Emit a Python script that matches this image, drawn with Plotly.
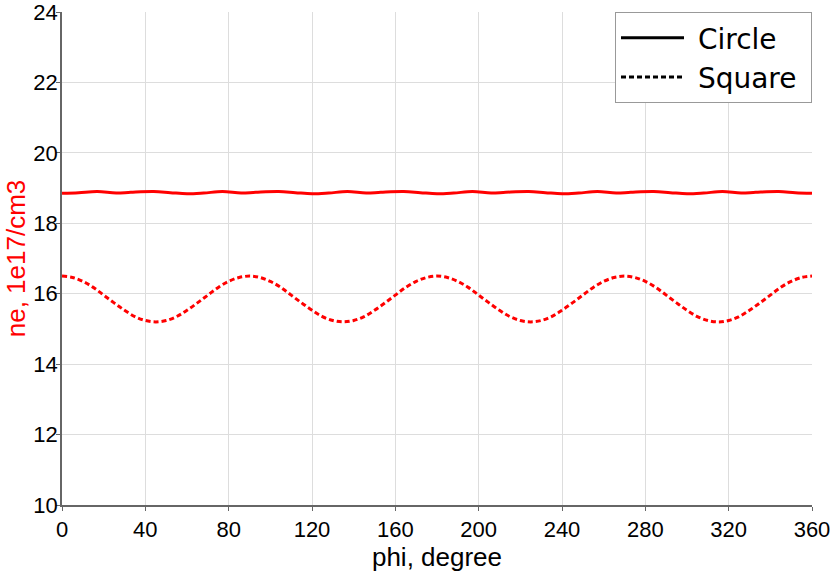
import plotly.graph_objects as go

# Circle series
phi_circle = [0, 8, 17, 26, 33, 44, 52, 60, 68, 77, 86, 93, 104, 112, 120, 128, 137, 146, 153,
              164, 172, 180, 188, 197, 206, 213, 224, 232, 240, 248, 257, 266, 273, 284, 292,
              300, 308, 317, 326, 333, 344, 352, 360]
ne_circle = [18.85, 18.87, 18.90, 18.86, 18.88, 18.90, 18.87, 18.84, 18.86, 18.90, 18.86, 18.88,
             18.90, 18.87, 18.84, 18.86, 18.90, 18.86, 18.88, 18.90, 18.87, 18.84, 18.86, 18.90,
             18.86, 18.88, 18.90, 18.87, 18.84, 18.86, 18.90, 18.86, 18.88, 18.90, 18.87, 18.84,
             18.86, 18.90, 18.86, 18.88, 18.90, 18.87, 18.85]

# Square series
phi_square = list(range(0, 361, 5))
ne_square = [16.50, 16.46, 16.35, 16.18, 15.96, 15.74, 15.53, 15.35, 15.24, 15.20,
             15.24, 15.35, 15.53, 15.74, 15.96, 16.18, 16.35, 16.46, 16.50,
             16.46, 16.35, 16.18, 15.96, 15.74, 15.53, 15.35, 15.24, 15.20,
             15.24, 15.35, 15.53, 15.74, 15.96, 16.18, 16.35, 16.46, 16.50,
             16.46, 16.35, 16.18, 15.96, 15.74, 15.53, 15.35, 15.24, 15.20,
             15.24, 15.35, 15.53, 15.74, 15.96, 16.18, 16.35, 16.46, 16.50,
             16.46, 16.35, 16.18, 15.96, 15.74, 15.53, 15.35, 15.24, 15.20,
             15.24, 15.35, 15.53, 15.74, 15.96, 16.18, 16.35, 16.46, 16.50]

x_ticks = [0, 40, 80, 120, 160, 200, 240, 280, 320, 360]
y_ticks = [10, 12, 14, 16, 18, 20, 22, 24]
series_names = ["Circle", "Square"]

RED = "#ff0000"
SQ_DASH = "5px,3px"
NBSP = "\u00a0"

fig = go.Figure()
fig.add_trace(go.Scatter(x=phi_circle, y=ne_circle, mode="lines", line=dict(color=RED, width=3, shape="spline"),
                         showlegend=False, hoverinfo="skip", cliponaxis=False))
fig.add_trace(go.Scatter(x=phi_square, y=ne_square, mode="lines", line=dict(color=RED, width=3, dash=SQ_DASH, shape="spline"),
                         showlegend=False, hoverinfo="skip", cliponaxis=False))
# legend entries (black, as in the reference)
fig.add_trace(go.Scatter(x=[None], y=[None], mode="lines", name=NBSP + series_names[0],
                         line=dict(color="black", width=3)))
fig.add_trace(go.Scatter(x=[None], y=[None], mode="lines", name=NBSP + series_names[1] + NBSP,
                         line=dict(color="black", width=3, dash=SQ_DASH)))

fig.update_layout(
    width=830, height=574,
    margin=dict(l=62, r=18, t=12, b=69, autoexpand=False),
    paper_bgcolor="white", plot_bgcolor="white",
    font=dict(family="Liberation Sans, Arial, sans-serif", size=22, color="black"),
    legend=dict(x=1, y=1, xanchor="right", yanchor="top",
                bgcolor="white", bordercolor="#999999", borderwidth=1,
                font=dict(family="DejaVu Sans", size=28, color="black"),
                itemwidth=63, tracegroupgap=0),
    xaxis=dict(range=[0, 360], tickvals=x_ticks, ticktext=[str(v) for v in x_ticks],
               showgrid=True, gridcolor="#dddddd", automargin=False, ticklabeloverflow="allow",
               showline=True, linecolor="#666666", linewidth=1.5, ticks="outside", ticklen=4,
               tickcolor="#666666", zeroline=False,
               title=dict(text="phi, degree", standoff=0, font=dict(size=26))),
    yaxis=dict(range=[10, 24], tickvals=y_ticks, ticktext=[str(v) for v in y_ticks],
               showgrid=True, gridcolor="#dddddd", automargin=False, ticklabeloverflow="allow",
               showline=True, linecolor="#666666", linewidth=1.5, ticks="outside", ticklen=4,
               tickcolor="#666666", zeroline=False, ticklabelstandoff=-6,
               title=dict(text="ne, 1e17/cm3", standoff=0, font=dict(size=26, color=RED))),
)

fig.write_html("out.html", config={"displayModeBar": False},
               post_script="document.body.style.margin='0';")
